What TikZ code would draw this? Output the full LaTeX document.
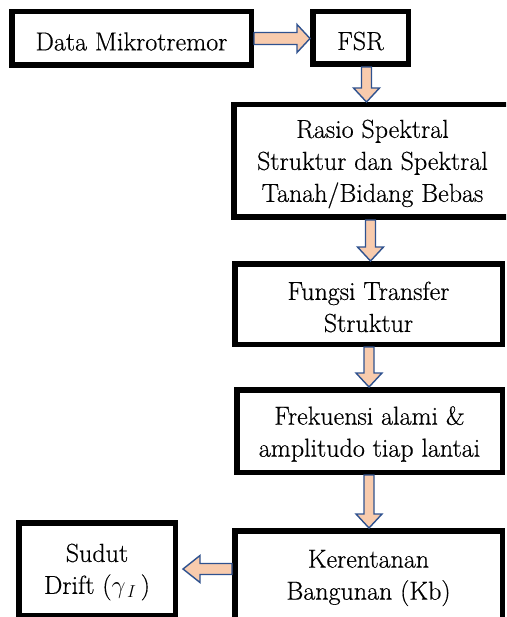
\documentclass[tikz,border=0pt]{standalone}
\usepackage{fontspec}
\setmainfont{Latin Modern Roman}[FakeBold=0.5]
\usepackage{tikz}
\usetikzlibrary{calc}
\definecolor{ArrowBlue}{RGB}{47,82,143}
\definecolor{ArrowPeach}{RGB}{248,203,173}
\tikzset{
  box/.style={draw=black, line width=5.5pt, fill=white, inner sep=0pt},
  boxtext/.style={align=center, inner sep=0pt, yshift=-3pt,
                  font=\fontsize{26}{32}\selectfont},
  txt/.style={label={[boxtext]center:{#1}}},
  blk/.style={draw=ArrowBlue, fill=ArrowPeach, line width=1.4pt, line join=miter}
}
% block arrow pointing down, from one box to the next
\newcommand{\downblk}[2]{%
  \draw[blk] let \p1=(#1.south), \p2=(#2.north), \p3=($(#1.south)!0.5!(#2.north)$) in
    (\x3-5pt,\y1) -- (\x3+5pt,\y1) -- (\x3+5pt,\y2+14pt) -- (\x3+13pt,\y2+14pt)
    -- (\x3,\y2) -- (\x3-13pt,\y2+14pt) -- (\x3-5pt,\y2+14pt) -- cycle;}

\begin{document}
\begin{tikzpicture}[x=1pt,y=-1pt]
\useasboundingbox (0,0) rectangle (506,617);
\clip (0,0) rectangle (506,617);

\node[box, minimum width=239.5pt, minimum height=53.5pt, txt={Data Mikrotremor}] (data) at (131.5,38.5) {};
\node[box, minimum width=95.5pt, minimum height=52.5pt, txt={FSR}] (fsr) at (360.5,38) {};
\node[box, minimum width=277.5pt, minimum height=112.5pt,
      txt={Rasio Spektral\\Struktur dan Spektral\\Tanah/Bidang Bebas}] (rasio) at (372.5,161) {};
\node[box, minimum width=267.5pt, minimum height=80.5pt,
      txt={Fungsi Transfer\\Struktur}] (fungsi) at (368.5,304) {};
\node[box, minimum width=265.5pt, minimum height=82.5pt,
      txt={Frekuensi alami \&\\amplitudo tiap lantai}] (frek) at (369.5,431) {};
\node[box, minimum width=267.5pt, minimum height=88.5pt,
      txt={Kerentanan\\Bangunan (Kb)}] (keren) at (368.5,575) {};
\node[box, minimum width=156.5pt, minimum height=92.5pt,
      txt={Sudut\\Drift ($\gamma_{\,I}$\,)}] (sudut) at (97,569) {};

% arrows
\draw[blk] let \p1=(data.east), \p2=(fsr.west) in
  (\x1,\y1+6pt) -- (\x2-13pt,\y1+6pt) -- (\x2-13pt,\y1+14pt) -- (\x2,\y1)
  -- (\x2-13pt,\y1-14pt) -- (\x2-13pt,\y1-6pt) -- (\x1,\y1-6pt) -- cycle;
\downblk{fsr}{rasio}
\downblk{rasio}{fungsi}
\downblk{fungsi}{frek}
\downblk{frek}{keren}
\draw[blk] let \p1=(keren.west), \p2=(sudut.east) in
  (\x1,\y2+5.5pt) -- (\x2+22pt,\y2+5.5pt) -- (\x2+22pt,\y2+13.5pt) -- (\x2+5pt,\y2)
  -- (\x2+22pt,\y2-13.5pt) -- (\x2+22pt,\y2-5.5pt) -- (\x1,\y2-5.5pt) -- cycle;
\end{tikzpicture}
\end{document}
